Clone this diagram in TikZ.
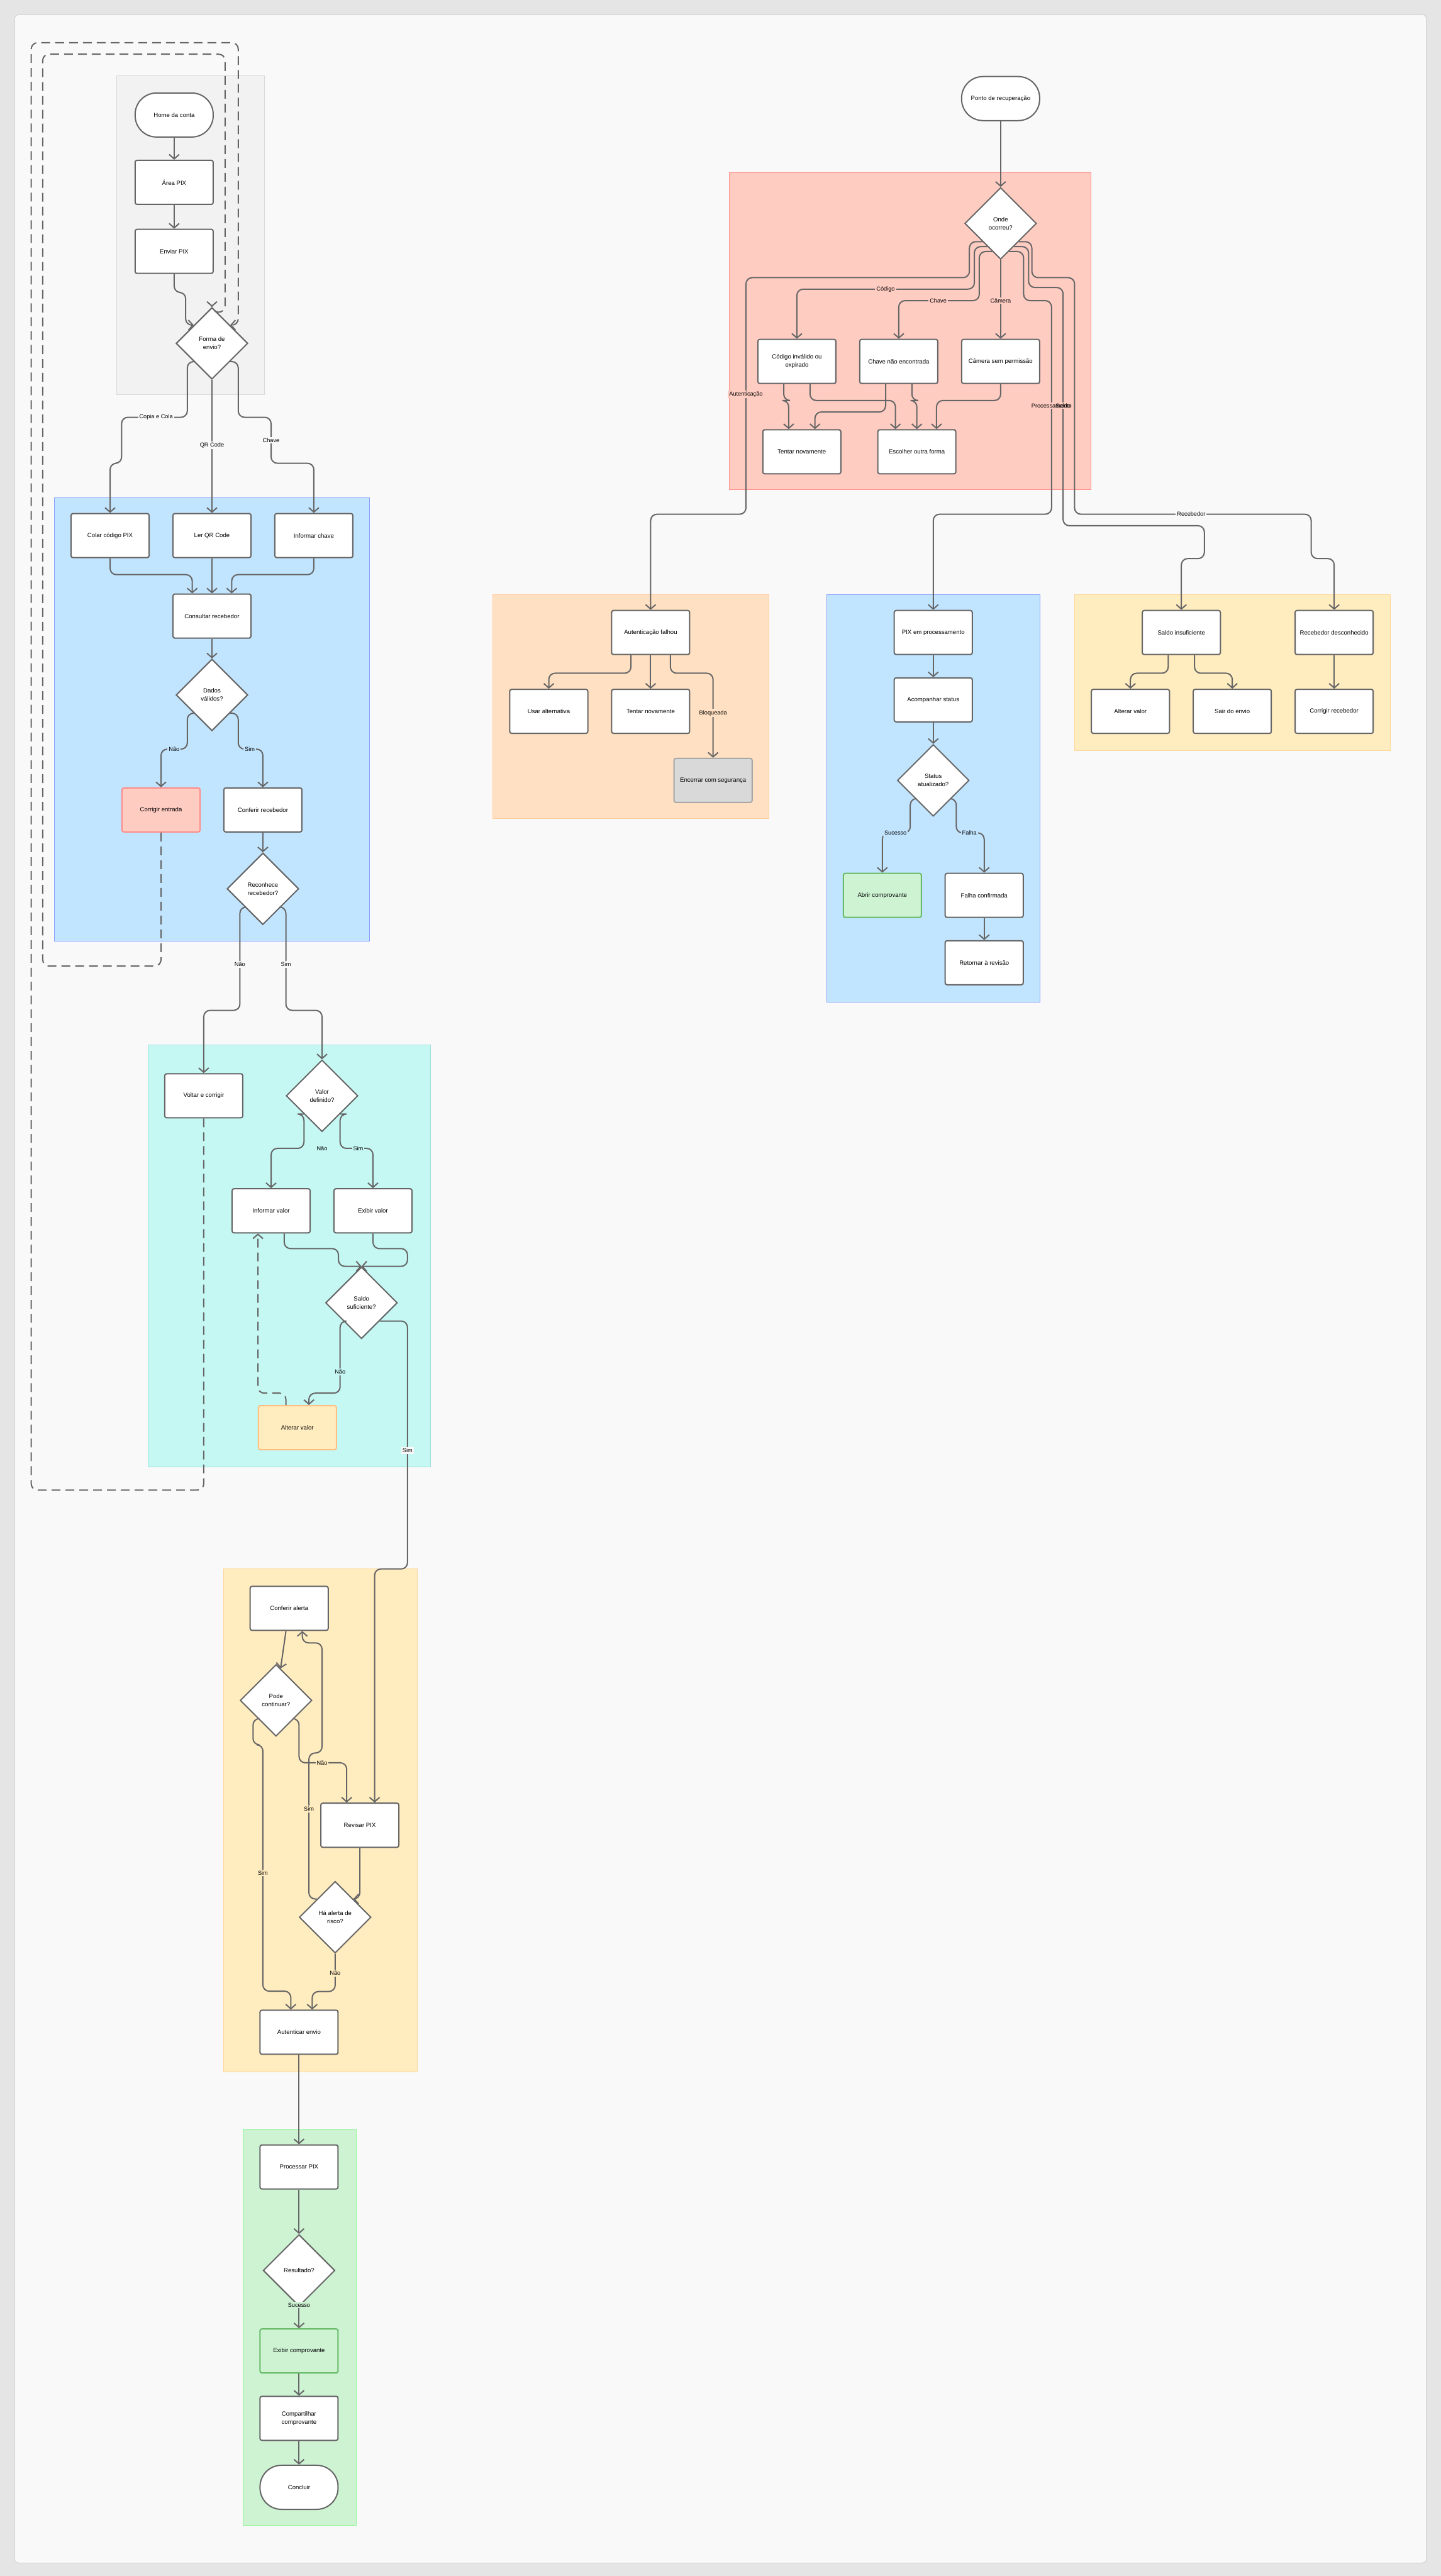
\documentclass[tikz,border=0pt]{standalone}
\usepackage{fontspec}
\setmainfont{Liberation Sans}
\usetikzlibrary{shapes.geometric, arrows.meta, positioning, calc}
\definecolor{linecol}{HTML}{666666}
\definecolor{panelcol}{HTML}{F9F9F9}
\definecolor{bluefill}{HTML}{C2E5FF}
\definecolor{redfill}{HTML}{FFCCC2}
\definecolor{cyanfill}{HTML}{C5F8F3}
\definecolor{yellowfill}{HTML}{FFECBF}
\definecolor{greenfill}{HTML}{CDF3D3}
\definecolor{orangefill}{HTML}{FFE0C2}
\tikzset{
  flowbox/.style={rectangle, rounded corners=1.5pt, minimum width=62pt, minimum height=35pt, text centered, align=center, draw=linecol, line width=1pt, fill=white},
  term/.style={flowbox, rounded corners=17pt},
  choice/.style={diamond, aspect=1, minimum size=57pt, inner sep=0pt, align=center, draw=linecol, line width=1pt, fill=white},
  arr/.style={-{Straight Barb[length=3.5pt,width=8pt]}, draw=linecol, line width=1pt, rounded corners=5pt},
  loopdash/.style={dash pattern=on 7pt off 4pt},
  lbl/.style={fill=#1, inner sep=1pt, font=\fontsize{4.6}{5.5}\selectfont},
  lbl/.default=panelcol
}
\begin{document}
\begin{tikzpicture}[x=1.3055pt, y=-1.3055pt, font=\fontsize{4.8}{6.5}\selectfont]
\useasboundingbox (0,0) rectangle (877,1568);
\fill[black!10] (0,0) rectangle (877,1568);
\filldraw[fill=panelcol, draw=black!18, rounded corners=3pt] (9,9) rectangle (868,1560);

% zones
\filldraw[fill=black!5, draw=black!15] (71,46) rectangle (161,240);
\filldraw[fill=bluefill, draw=bluefill!70!blue] (33,303) rectangle (225,573);
\filldraw[fill=cyanfill, draw=cyanfill!80!teal] (90,636) rectangle (262,893);
\filldraw[fill=yellowfill, draw=yellowfill!80!orange] (136,955) rectangle (254,1261);
\filldraw[fill=greenfill, draw=greenfill!70!green] (148,1296) rectangle (217,1537);
\filldraw[fill=redfill, draw=redfill!70!red] (444,105) rectangle (664,298);
\filldraw[fill=orangefill, draw=orangefill!80!orange] (300,362) rectangle (468,498);
\filldraw[fill=bluefill, draw=bluefill!70!blue] (503,362) rectangle (633,610);
\filldraw[fill=yellowfill, draw=yellowfill!80!orange] (654,362) rectangle (846,457);

% main flow
\node (home) [term] at (106,70) {Home da conta};
\node (area) [flowbox] at (106,111) {Área PIX};
\node (enviar) [flowbox] at (106,153) {Enviar PIX};
\node (forma) [choice] at (129,209) {Forma de\\envio?};
\node (colar) [flowbox] at (67,326) {Colar código PIX};
\node (lerqr) [flowbox] at (129,326) {Ler QR Code};
\node (infchave) [flowbox] at (191,326) {Informar chave};
\node (consultar) [flowbox] at (129,375) {Consultar recebedor};
\node (dados) [choice] at (129,423) {Dados\\válidos?};
\node (corrigir) [flowbox, fill=redfill, draw=red!45] at (98,493) {Corrigir entrada};
\node (conferir) [flowbox] at (160,493) {Conferir recebedor};
\node (reconhece) [choice] at (160,541) {Reconhece\\recebedor?};
\node (voltar) [flowbox] at (124,667) {Voltar e corrigir};
\node (valor) [choice] at (196,667) {Valor\\definido?};
\node (infvalor) [flowbox] at (165,737) {Informar valor};
\node (exibir) [flowbox] at (227,737) {Exibir valor};
\node (saldo) [choice] at (220,793) {Saldo\\suficiente?};
\node (alterar) [flowbox, fill=yellowfill, draw=orange!50] at (181,869) {Alterar valor};
\node (confalerta) [flowbox] at (176,979) {Conferir alerta};
\node (pode) [choice] at (168,1035) {Pode\\continuar?};
\node (revisar) [flowbox] at (219,1111) {Revisar PIX};
\node (risco) [choice] at (204,1167) {Há alerta de\\risco?};
\node (autenticar) [flowbox] at (182,1237) {Autenticar envio};
\node (processar) [flowbox] at (182,1319) {Processar PIX};
\node (resultado) [choice] at (182,1382) {Resultado?};
\node (exibircomp) [flowbox, fill=greenfill, draw=green!55!black!60] at (182,1431) {Exibir comprovante};
\node (compart) [flowbox] at (182,1472) {Compartilhar\\comprovante};
\node (concluir) [term] at (182,1514) {Concluir};

% recovery
\node (ponto) [term] at (609,60) {Ponto de recuperação};
\node (onde) [choice] at (609,136) {Onde\\ocorreu?};
\node (codigo) [flowbox] at (485,220) {Código inválido ou\\expirado};
\node (chavenao) [flowbox] at (547,220) {Chave não encontrada};
\node (camera) [flowbox] at (609,220) {Câmera sem permissão};
\node (tentar) [flowbox] at (488,275) {Tentar novamente};
\node (escolher) [flowbox] at (558,275) {Escolher outra forma};
\node (autfalhou) [flowbox] at (396,385) {Autenticação falhou};
\node (usar) [flowbox] at (334,433) {Usar alternativa};
\node (tentar2) [flowbox] at (396,433) {Tentar novamente};
\node (encerrar) [flowbox, fill=black!15, draw=black!35] at (434,475) {Encerrar com segurança};
\node (pixproc) [flowbox] at (568,385) {PIX em processamento};
\node (acomp) [flowbox] at (568,426) {Acompanhar status};
\node (status) [choice] at (568,475) {Status\\atualizado?};
\node (abrir) [flowbox, fill=greenfill, draw=green!55!black!60] at (537,545) {Abrir comprovante};
\node (falha) [flowbox] at (599,545) {Falha confirmada};
\node (retornar) [flowbox] at (599,586) {Retornar à revisão};
\node (saldoins) [flowbox] at (719,385) {Saldo insuficiente};
\node (recdesc) [flowbox] at (812,385) {Recebedor desconhecido};
\node (alterar2) [flowbox] at (688,433) {Alterar valor};
\node (sair) [flowbox] at (750,433) {Sair do envio};
\node (corrigirrec) [flowbox] at (812,433) {Corrigir recebedor};

% connectors
\draw [arr] (home) -- (area);
\draw [arr] (area) -- (enviar);
\draw [arr] (enviar.south) |- (113,178) |- (forma.north west);
\draw [arr, loopdash] (corrigir.south) |- (26,588) |- (137,33) |- (129,190) -- (forma.north);
\draw [arr, loopdash] (voltar.south) |- (19,907) |- (145,26) |- (forma.north east);
\draw [arr] (forma.south west) -| (114,254) -| (74,282) -| (colar.north);
\draw [arr] (forma.south) -- (lerqr.north);
\draw [arr] (forma.south east) -| (145,254) -| (165,282) -| (infchave.north);
\draw [arr] (colar.south) -- ++(0,10) -| ($(consultar.north)+(-12,0)$);
\draw [arr] (lerqr) -- (consultar);
\draw [arr] (infchave.south) -- ++(0,10) -| ($(consultar.north)+(12,0)$);
\draw [arr] (consultar) -- (dados);
\draw [arr] (dados.south west) -| (114,456) -| (corrigir.north);
\draw [arr] (dados.south east) -| (145,456) -| (conferir.north);
\draw [arr] (conferir) -- (reconhece);
\draw [arr] (reconhece.south west) -| (146,615) -| (voltar.north);
\draw [arr] (reconhece.south east) -| (174,615) -| (valor.north);
\draw [arr] (valor.south west) -| (185,699) -| (infvalor.north);
\draw [arr] (valor.south east) -| (207,699) -| (exibir.north);
\draw [arr] ($(infvalor.south)+(8,0)$) |- (206,760) |- (saldo.north);
\draw [arr] (exibir.south) |- (248,760) |- (saldo.north);
\draw [arr] (saldo.south west) -| (207,848) -| ($(alterar.north)+(7,0)$);
\draw [arr, loopdash] ($(alterar.north)+(-7,0)$) |- (157,848) -- ($(infvalor.south)+(-8,0)$);
\draw [arr] (saldo.south east) -| (248,955) -| ($(revisar.north)+(9,0)$);
\draw [arr] (confalerta) -- (pode);
\draw [arr] (pode.south west) -| (154,1062) -| (160,1212) -| ($(autenticar.north)+(-5,0)$);
\draw [arr] (pode.south east) -| (182,1073) -| ($(revisar.north)+(-8,0)$);
\draw [arr] (revisar.south) |- (risco.north east);
\draw [arr] (risco.north west) -| (188,1067) -| (196,1000) -| ($(confalerta.south)+(8,0)$);
\draw [arr] (risco.south) |- ($(autenticar.north)+(8,-11)$) -- ($(autenticar.north)+(8,0)$);
\draw [arr] (autenticar) -- (processar);
\draw [arr] (processar) -- (resultado);
\draw [arr] (resultado) -- (exibircomp);
\draw [arr] (exibircomp) -- (compart);
\draw [arr] (compart) -- (concluir);

\draw [arr] (ponto) -- (onde);
\draw [arr] (onde.south west) -| (590,169) -| (454,313) -| (autfalhou.north);
\draw [arr] ($(onde.south west)+(3,3)$) -| (593,176) -| (codigo.north);
\draw [arr] ($(onde.south west)+(6,6)$) -| (596,183) -| (chavenao.north);
\draw [arr] (onde.south) -- (camera.north);
\draw [arr] ($(onde.south east)+(-6,6)$) -| (623,183) -| (640,313) -| (pixproc.north);
\draw [arr] ($(onde.south east)+(-3,3)$) -| (626,175) -| (647,320) -| (733,340) -| (saldoins.north);
\draw [arr] (onde.south east) -| (628,169) -| (654,313) -| (798,340) -| (recdesc.north);
\draw [arr] ($(codigo.south)+(-8,0)$) -- ++(0,10) -| ($(tentar.north)+(-8,0)$);
\draw [arr] ($(codigo.south)+(8,0)$) -- ++(0,10) -| ($(escolher.north)+(-13,0)$);
\draw [arr] ($(chavenao.south)+(-8,0)$) -- ++(0,17) -| ($(tentar.north)+(8,0)$);
\draw [arr] ($(chavenao.south)+(8,0)$) -- ++(0,10) -| (escolher.north);
\draw [arr] (camera.south) -- ++(0,10) -| ($(escolher.north)+(12,0)$);
\draw [arr] ($(autfalhou.south)+(-12,0)$) -- ++(0,11) -| (usar.north);
\draw [arr] (autfalhou) -- (tentar2);
\draw [arr] ($(autfalhou.south)+(12,0)$) -- ++(0,11) -| (encerrar.north);
\draw [arr] (pixproc) -- (acomp);
\draw [arr] (acomp) -- (status);
\draw [arr] (status.south west) -| (554,507) -| (abrir.north);
\draw [arr] (status.south east) -| (582,507) -| (falha.north);
\draw [arr] (falha) -- (retornar);
\draw [arr] ($(saldoins.south)+(-8,0)$) -- ++(0,11) -| (alterar2.north);
\draw [arr] ($(saldoins.south)+(8,0)$) -- ++(0,11) -| (sair.north);
\draw [arr] (recdesc) -- (corrigirrec);

% labels
\node [lbl] at (95,254) {Copia e Cola};
\node [lbl] at (129,271) {QR Code};
\node [lbl] at (165,268) {Chave};
\node [lbl=bluefill] at (106,456) {Não};
\node [lbl=bluefill] at (152,456) {Sim};
\node [lbl] at (146,587) {Não};
\node [lbl] at (174,587) {Sim};
\node [lbl=cyanfill] at (196,699) {Não};
\node [lbl=cyanfill] at (218,699) {Sim};
\node [lbl=cyanfill] at (207,835) {Não};
\node [lbl] at (248,883) {Sim};
\node [lbl=yellowfill] at (196,1073) {Não};
\node [lbl=yellowfill] at (188,1101) {Sim};
\node [lbl=yellowfill] at (160,1140) {Sim};
\node [lbl=yellowfill] at (204,1201) {Não};
\node [lbl=greenfill] at (182,1403) {Sucesso};
\node [lbl=redfill] at (539,176) {Código};
\node [lbl=redfill] at (571,183) {Chave};
\node [lbl=redfill] at (609,183) {Câmera};
\node [lbl=redfill] at (454,240) {Autenticação};
\node [lbl=redfill] at (640,247) {Processamento};
\node [lbl=redfill, fill opacity=0, text opacity=1] at (647,247) {Saldo};
\node [lbl] at (725,313) {Recebedor};
\node [lbl=orangefill] at (434,434) {Bloqueada};
\node [lbl=bluefill] at (545,507) {Sucesso};
\node [lbl=bluefill] at (590,507) {Falha};
\end{tikzpicture}
\end{document}
